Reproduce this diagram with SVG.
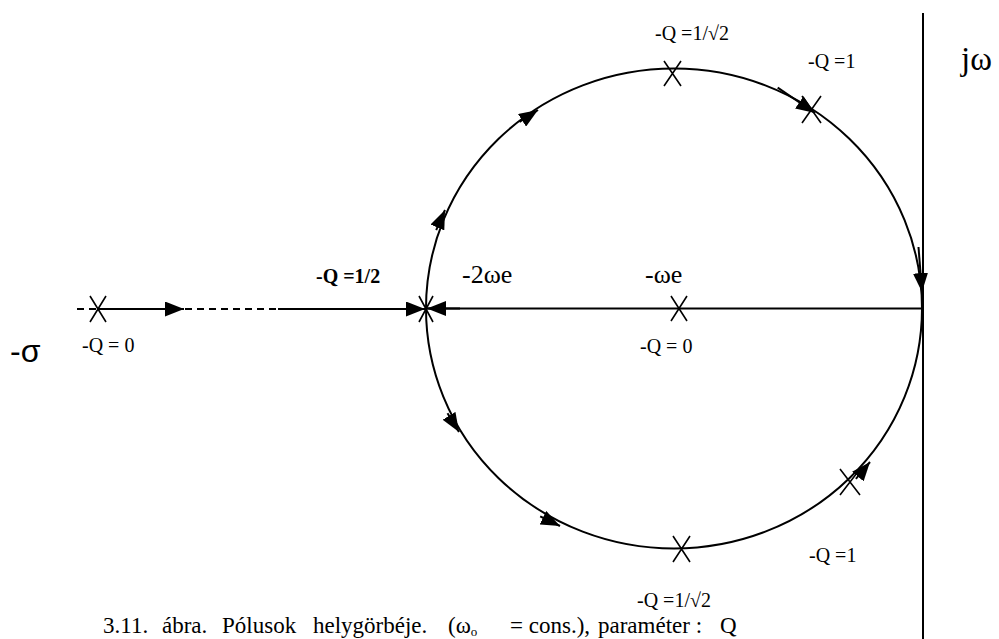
<svg xmlns="http://www.w3.org/2000/svg" width="999" height="639" viewBox="0 0 999 639">
<style>
.ln{fill:none;stroke:#000;stroke-width:2}
.x{fill:none;stroke:#000;stroke-width:1.6}
.t{font-family:'Liberation Serif','DejaVu Serif','Times New Roman',Times,serif;fill:#000}
.s{font-family:'Liberation Sans','DejaVu Sans',Arial,sans-serif;fill:#000}
.q{font-size:20px}
.ar{fill:none;stroke:#000;stroke-width:2;marker-end:url(#ah)}
</style>
<defs>
<marker id="ah" markerUnits="userSpaceOnUse" markerWidth="20" markerHeight="15" refX="19" refY="7.5" orient="auto" viewBox="0 0 20 15">
<path d="M0,0 L19,7.5 L0,15 z" fill="#000"/>
</marker>
</defs>
<rect width="999" height="639" fill="#fff"/>
<g id="axes">
<line class="ln" x1="923" y1="13" x2="923" y2="639"/>
<line class="ln" x1="77" y1="309" x2="426" y2="309" stroke-dasharray="7 5"/>
<line class="ln" x1="426" y1="308.5" x2="923" y2="308.5"/>
</g>
<g id="locus">
<ellipse class="ln" cx="674" cy="308.5" rx="248" ry="240"/>
</g>
<g id="connectors">
<line class="ar" x1="97" y1="309" x2="184" y2="309"/>
<line class="ar" x1="278" y1="309" x2="425" y2="309"/>
<line class="ar" x1="460" y1="308.5" x2="427" y2="308.5"/>
<line class="ar" x1="436.2" y1="230.2" x2="445" y2="210"/>
<line class="ar" x1="519.5" y1="121.9" x2="538" y2="110"/>
<line class="ar" x1="777.7" y1="87.7" x2="815" y2="113"/>
<line class="ar" x1="918.5" y1="247" x2="922" y2="292"/>
<line class="ar" x1="447.5" y1="413.3" x2="459" y2="432"/>
<line class="ar" x1="540.2" y1="516.3" x2="560" y2="526"/>
<line class="ar" x1="855.9" y1="478.9" x2="870" y2="462"/>
</g>
<g id="pole-q0-left"><path class="x" d="M90,296 L106,322 M106,296 L90,322"/><text class="t q" x="82" y="352">-Q = 0</text></g>
<g id="pole-q-half"><path class="x" d="M419,296 L433,322 M433,296 L419,322"/><text class="t q" x="316" y="283" font-weight="bold">-Q =1/2</text></g>
<g id="pole-q0-center"><path class="x" d="M671,296 L687,321 M687,296 L671,321"/><text class="t q" x="640" y="353">-Q = 0</text></g>
<g id="pole-top"><path class="x" d="M664,61 L681,86 M681,61 L664,86"/><text class="t q" x="655" y="40">-Q =1/√2</text></g>
<g id="pole-top-q1"><path class="x" d="M802,96 L821,123 M821,96 L802,123"/><text class="t q" x="808" y="68">-Q =1</text></g>
<g id="pole-bottom"><path class="x" d="M673,536 L690,562 M690,536 L673,562"/><text class="t q" x="637" y="607">-Q =1/√2</text></g>
<g id="pole-bottom-q1"><path class="x" d="M840,469 L860,495 M860,469 L840,495"/><text class="t q" x="809" y="562">-Q =1</text></g>
<g id="labels">
<text class="t" x="462" y="283" font-size="26">-2ωe</text>
<text class="t" x="645" y="283" font-size="26">-ωe</text>
<text class="t" x="961" y="70" font-size="33">jω</text>
<text class="s" x="10" y="362" font-size="32">-σ</text>
<text class="t" y="633" font-size="23"><tspan x="103">3.11.</tspan><tspan x="162">ábra.</tspan><tspan x="222">Pólusok</tspan><tspan x="313">helygörbéje.</tspan><tspan x="448">(ω</tspan><tspan font-size="13" dy="3">o</tspan><tspan x="510" dy="-3">= cons.),</tspan><tspan x="598">paraméter :</tspan><tspan x="720">Q</tspan></text>
</g>
</svg>
